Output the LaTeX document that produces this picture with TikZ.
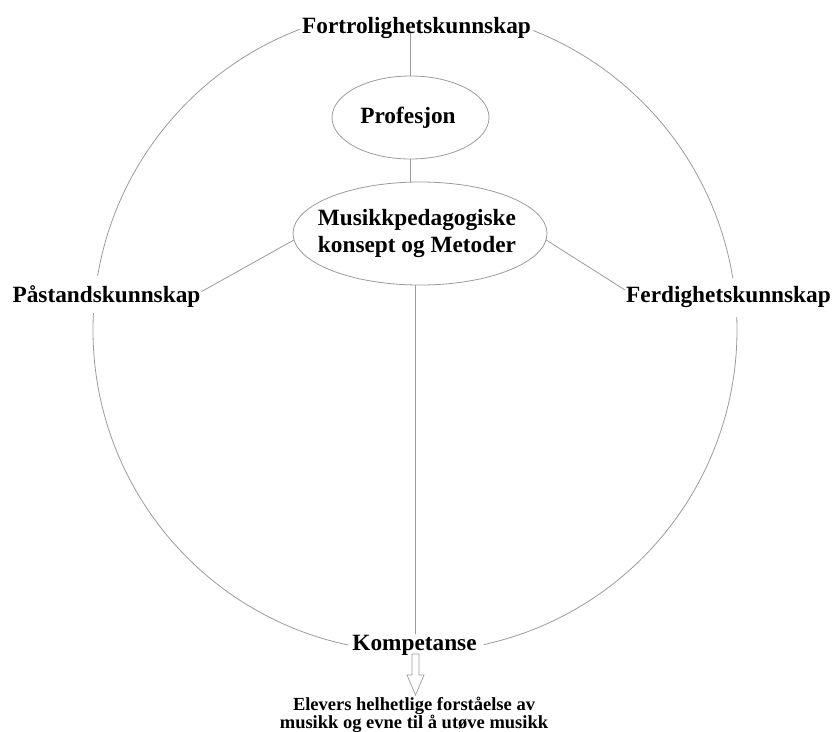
\documentclass[tikz,border=0pt]{standalone}
\usepackage{fontspec}
\setmainfont{Liberation Serif}
\usetikzlibrary{shapes.geometric,calc}
\definecolor{linegray}{RGB}{155,155,155}
\begin{document}
\begin{tikzpicture}[x=1pt,y=-1pt,
  lbl/.style={font=\bfseries\fontsize{23.3}{27}\selectfont, inner sep=1pt, text=black},
  oval/.style={ellipse, draw=linegray, line width=0.8pt, inner sep=0pt},
  conn/.style={draw=linegray, line width=0.8pt},
  ]
\useasboundingbox (0,0) rectangle (832,731);
% texts
\node[lbl, anchor=base] (fort) at (416.5,33) {Fortrolighetskunnskap};
\node[lbl, anchor=base] (pastand) at (106.5,302) {Påstandskunnskap};
\node[lbl, anchor=base] (ferd) at (728.5,302) {Ferdighetskunnskap};
\node[lbl, anchor=base] (komp) at (414.5,650) {Kompetanse};
% ovals
\node[oval, minimum width=157pt, minimum height=83pt] (prof) at (410.5,117.5) {};
\node[lbl] (proftext) at (408,117.5) {Profesjon};
\node[oval, minimum width=254pt, minimum height=103pt] (musikk) at (420,233.5) {};
\node[lbl, align=center] (musikktext) at (417,233.5) {Musikkpedagogiske\\konsept og Metoder};
% bottom text
\node[font=\bfseries\fontsize{18.5}{18}\selectfont, align=center, inner sep=0pt] (elev) at (414,714.5)
  {Elevers helhetlige forståelse av\\musikk og evne til å utøve musikk};
% connectors
\draw[conn] (prof.north) -- (prof.north |- fort.base);
\draw[conn] (prof.south) -- (prof.south |- musikk.north);
\draw[conn] (musikk.183) -- ([yshift=4.5pt]pastand.east);
\draw[conn] (musikk.-3) -- ([yshift=6.5pt]ferd.west);
\draw[conn] (musikk.265) -- (musikk.265 |- komp.north);
% ring arcs
\coordinate (c) at (415,330);
\draw[conn] (c) ++(-110.9:322) arc[start angle=-110.9, end angle=-170.3, radius=322];
\draw[conn] (c) ++(183:322) arc[start angle=183, end angle=102, radius=322];
\draw[conn] (c) ++(-68.5:322) arc[start angle=-68.5, end angle=-9.3, radius=322];
\draw[conn] (c) ++(-2.3:322) arc[start angle=-2.3, end angle=77.7, radius=322];
% hollow arrow
\coordinate (arrtop) at (415.5,654);
\draw[conn, line width=0.7pt] (arrtop) ++(-3.5,0) -- ++(7,0) -- ++(0,21) -- ++(5,0) -- ++(-8.5,20) -- ++(-8.5,-20) -- ++(5,0) -- cycle;
\end{tikzpicture}
\end{document}
